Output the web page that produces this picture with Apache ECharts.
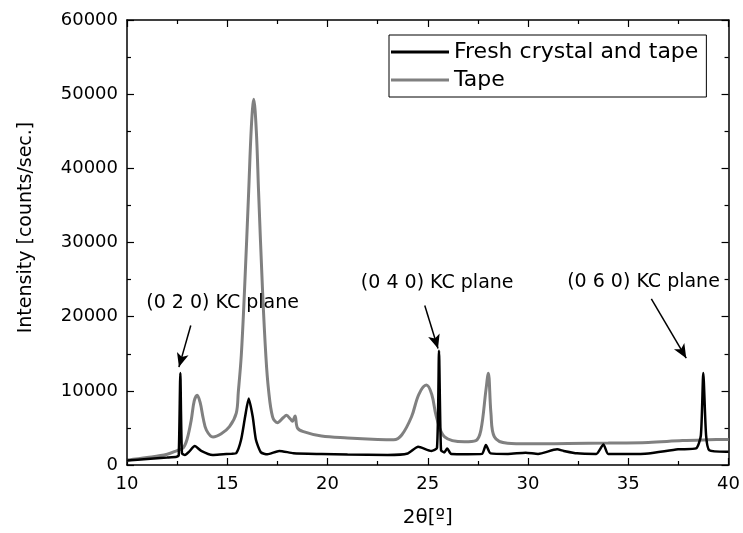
<!DOCTYPE html>
<html>
<head>
<meta charset="utf-8">
<script src="https://cdn.jsdelivr.net/npm/echarts@6/dist/echarts.min.js"></script>
<style>
  html, body { margin: 0; padding: 0; background: #fff; }
  #chart { width: 743px; height: 533px; }
</style>
</head>
<body>
<div id="chart"></div>
<script>
  // 2θ positions and intensities
  const freshX = [10.0, 11.0, 12.0, 12.48, 12.58, 12.66, 12.74, 12.89, 13.1, 13.38, 13.7, 14.27, 14.8, 15.2, 15.45, 15.69, 15.89, 16.07, 16.27, 16.43, 16.68, 17.0, 17.59, 18.3, 19.7, 21.0, 23.0, 24.0, 24.52, 25.18, 25.46, 25.56, 25.66, 25.82, 25.97, 26.17, 27.0, 27.7, 27.9, 28.13, 29.0, 29.88, 30.5, 31.45, 31.78, 32.44, 33.4, 33.76, 34.0, 35.0, 36.0, 37.48, 38.38, 38.62, 38.74, 38.88, 39.04, 39.87, 40.0];
  const freshY = [600, 800, 1000, 1120, 1300, 12400, 1600, 1350, 1800, 2560, 1900, 1350, 1450, 1500, 1600, 3400, 6500, 8950, 6500, 3400, 1700, 1450, 1900, 1600, 1480, 1400, 1350, 1550, 2460, 1900, 2300, 15400, 2000, 1700, 2240, 1480, 1450, 1500, 2690, 1570, 1500, 1660, 1500, 2110, 1900, 1570, 1500, 2780, 1480, 1480, 1550, 2110, 2240, 4000, 12400, 4000, 2000, 1800, 1800];

  const tapeX = [10.0, 11.0, 12.0, 12.5, 12.8, 13.0, 13.2, 13.35, 13.5, 13.65, 13.8, 13.96, 14.29, 14.7, 15.11, 15.45, 15.55, 15.7, 15.86, 16.07, 16.2, 16.32, 16.45, 16.56, 16.76, 16.93, 17.06, 17.26, 17.5, 17.8, 17.95, 18.15, 18.25, 18.38, 18.5, 18.8, 19.7, 21.0, 22.5, 23.3, 23.7, 24.19, 24.55, 24.93, 25.2, 25.43, 25.84, 26.83, 27.4, 27.65, 27.9, 28.02, 28.15, 28.32, 28.98, 30.0, 32.0, 34.0, 36.0, 37.7, 39.0, 40.0];
  const tapeY = [650, 1000, 1450, 1950, 2300, 3500, 6000, 8600, 9400, 8400, 6300, 4700, 3770, 4200, 5160, 7000, 9800, 14800, 23500, 37000, 45500, 49300, 45000, 37000, 23500, 14500, 10100, 6500, 5700, 6400, 6700, 6200, 5900, 6600, 5000, 4500, 3900, 3650, 3450, 3400, 4040, 6500, 9500, 10770, 9500, 6500, 3800, 3140, 3300, 4700, 10100, 12380, 7000, 3800, 2920, 2850, 2900, 2950, 3050, 3300, 3400, 3450];

  const xTicks = [10, 15, 20, 25, 30, 35, 40];
  const yTicks = [0, 10000, 20000, 30000, 40000, 50000, 60000];

  // annotations: [label, text pos, arrow start, arrow end] in data units
  const notes = [
    ['(0 2 0) KC plane', [14.77, 21900], [13.18, 18800], [12.59, 13200]],
    ['(0 4 0) KC plane', [25.47, 24500], [24.85, 21500], [25.51, 15700]],
    ['(0 6 0) KC plane', [35.76, 24600], [36.15, 22400], [37.89, 14400]]
  ];

  const font = 'DejaVu Sans, Liberation Sans, sans-serif';
  const zip = (xs, ys) => xs.map((x, i) => [x, ys[i]]);

  const chart = echarts.init(document.getElementById('chart'), null, {renderer: 'canvas'});

  const axisCommon = {
    axisLine: {show: true, onZero: false, lineStyle: {color: '#000', width: 1.5}},
    axisTick: {show: true, inside: true, length: 7, lineStyle: {color: '#000', width: 1.2}},
    minorTick: {show: true, splitNumber: 2, length: 4, lineStyle: {color: '#000', width: 1.2}},
    splitLine: {show: false}
  };

  chart.setOption({
    backgroundColor: '#fff',
    animation: false,
    grid: {left: 127, right: 10, top: 20, bottom: 68},
    legend: {
      orient: 'vertical',
      left: 389,
      top: 35,
      padding: [3, 8, 3, 2],
      itemGap: 0,
      itemWidth: 58,
      itemHeight: 3,
      icon: 'rect',
      borderColor: '#000',
      borderWidth: 1,
      borderRadius: 0,
      textStyle: {fontFamily: font, fontSize: 22, color: '#000', lineHeight: 28},
      data: ['Fresh crystal and tape', 'Tape']
    },
    xAxis: [
      Object.assign({
        type: 'value', min: 10, max: 40, interval: 5,
        name: '2θ[º]', nameLocation: 'middle', nameGap: 43,
        nameTextStyle: {fontFamily: font, fontSize: 20, color: '#000'},
        axisLabel: {fontFamily: font, fontSize: 18, color: '#000', margin: 10,
          formatter: v => xTicks.includes(v) ? String(v) : ''}
      }, axisCommon),
      Object.assign({
        type: 'value', min: 10, max: 40, interval: 5, position: 'top',
        axisLabel: {show: false}
      }, axisCommon)
    ],
    yAxis: [
      Object.assign({
        type: 'value', min: 0, max: 60000, interval: 10000,
        name: 'Intensity [counts/sec.]', nameLocation: 'middle', nameGap: 91,
        nameTextStyle: {fontFamily: font, fontSize: 19, color: '#000', padding: [0, 0, 0, 30]},
        axisLabel: {fontFamily: font, fontSize: 18, color: '#000', margin: 9,
          formatter: v => yTicks.includes(v) ? String(v) : ''}
      }, axisCommon),
      Object.assign({
        type: 'value', min: 0, max: 60000, interval: 10000, position: 'right',
        axisLabel: {show: false}
      }, axisCommon)
    ],
    series: [
      {
        name: 'Tape',
        type: 'line',
        data: zip(tapeX, tapeY),
        symbol: 'none',
        smooth: 0.35,
        z: 2,
        color: '#808080',
        lineStyle: {color: '#808080', width: 3}
      },
      {
        name: 'Fresh crystal and tape',
        type: 'line',
        data: zip(freshX, freshY),
        symbol: 'none',
        smooth: 0.2,
        z: 3,
        color: '#000',
        lineStyle: {color: '#000', width: 2.5},
        markLine: {
          silent: true,
          symbol: ['none', 'arrow'],
          symbolSize: [9, 14],
          lineStyle: {color: '#000', width: 1.5, type: 'solid'},
          label: {show: false},
          data: notes.map(n => [{coord: n[2]}, {coord: n[3]}])
        },
        markPoint: {
          silent: true,
          symbol: 'circle',
          symbolSize: 0,
          label: {show: true, position: 'inside', fontFamily: font, fontSize: 19, color: '#000',
            formatter: p => p.name},
          data: notes.map(n => ({name: n[0], coord: n[1]}))
        }
      }
    ]
  });
</script>
</body>
</html>
